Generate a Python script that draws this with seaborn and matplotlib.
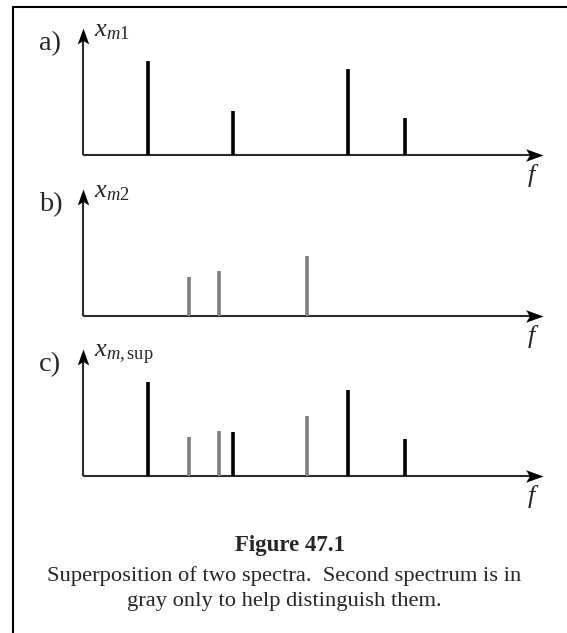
import matplotlib
matplotlib.use("Agg")
import matplotlib.pyplot as plt
import seaborn as sns
from matplotlib.lines import Line2D

# Spectral lines of the first signal (drawn black) and the second one (drawn gray)
freq_1 = [6.5, 15.0, 26.5, 32.2]
amp_1 = [0.94, 0.44, 0.86, 0.37]
freq_2 = [10.6, 13.6, 22.4]
amp_2 = [0.39, 0.45, 0.60]

panel_tags = ["a)", "b)", "c)"]
panel_ylabels = [r"$x_{m1}$", r"$x_{m2}$", r"$x_{m,\mathrm{sup}}$"]
freq_label = r"$f$"
fig_title = "Figure 47.1"
fig_caption = ["Superposition of two spectra.  Second spectrum is in",
               "gray only to help distinguish them."]

sns.set_theme(style="white")
plt.rcParams["font.family"] = ["Liberation Serif", "DejaVu Serif"]
plt.rcParams["mathtext.fontset"] = "custom"
plt.rcParams["mathtext.rm"] = "Liberation Serif"
plt.rcParams["mathtext.it"] = "Liberation Serif:italic"
plt.rcParams["mathtext.bf"] = "Liberation Serif:bold"

W, H = 567, 633
fig = plt.figure(figsize=(W / 100, H / 100), dpi=100)
fig.patch.set_facecolor("white")


def fx(px):
    return px / W


def fy(py):
    return 1 - py / H


# page frame: top rule and left rule
fig.add_artist(Line2D([fx(12.5), 1], [fy(6.5), fy(6.5)], color="black", lw=1.5))
fig.add_artist(Line2D([fx(13), fx(13)], [fy(6.5), 0], color="black", lw=1.5))

BLACK = "#000000"
GRAY = "#7f7f7f"
AXIS = "#2b2b2b"

spectra = [
    [(freq_1, amp_1, BLACK)],
    [(freq_2, amp_2, GRAY)],
    [(freq_1, amp_1, BLACK), (freq_2, amp_2, GRAY)],
]

baselines = [155, 316, 476]
x_left, x_right = 83, 543
axis_h = 127
f_max = 46.0
a_max = 1.27

head_right = [(0, 0), (-1, 0.36), (-0.78, 0), (-1, -0.36)]
head_up = [(0, 0), (0.36, -1), (0, -0.78), (-0.36, -1)]

for i, base in enumerate(baselines):
    ax = fig.add_axes([fx(x_left), fy(base), (x_right - x_left) / W, axis_h / H])
    ax.set_xlim(0, f_max)
    ax.set_ylim(0, a_max)
    ax.axis("off")

    # axes with arrowheads
    ax.plot([0, f_max * 0.99], [0, 0], color=AXIS, lw=1.5, clip_on=False,
            solid_capstyle="butt")
    ax.plot([0, 0], [0, a_max * 0.97], color=AXIS, lw=1.5, clip_on=False,
            solid_capstyle="butt")
    ax.plot([f_max], [0], marker=head_right, markersize=25, color="black",
            clip_on=False, markeredgewidth=0)
    ax.plot([0], [a_max], marker=head_up, markersize=23, color="black",
            clip_on=False, markeredgewidth=0)

    # spectral lines
    for freq, amp, col in spectra[i]:
        ax.vlines(freq, 0, amp, colors=col, lw=2.6, clip_on=False)

    fig.text(fx(39), fy(base - 105), panel_tags[i], fontsize=20.5,
             ha="left", va="baseline")
    fig.text(fx(94), fy(base - 119), panel_ylabels[i], fontsize=19,
             ha="left", va="baseline")
    fig.text(fx(533), fy(base + 27), freq_label, fontsize=19,
             ha="center", va="baseline")

fig.text(fx(290), fy(551), fig_title, fontsize=16.5, fontweight="bold",
         ha="center", va="baseline")
for k, line in enumerate(fig_caption):
    fig.text(fx(284), fy(581 + 25 * k), line, fontsize=16.2, ha="center",
             va="baseline")

fig.savefig("out.png", dpi=100, facecolor="white")
